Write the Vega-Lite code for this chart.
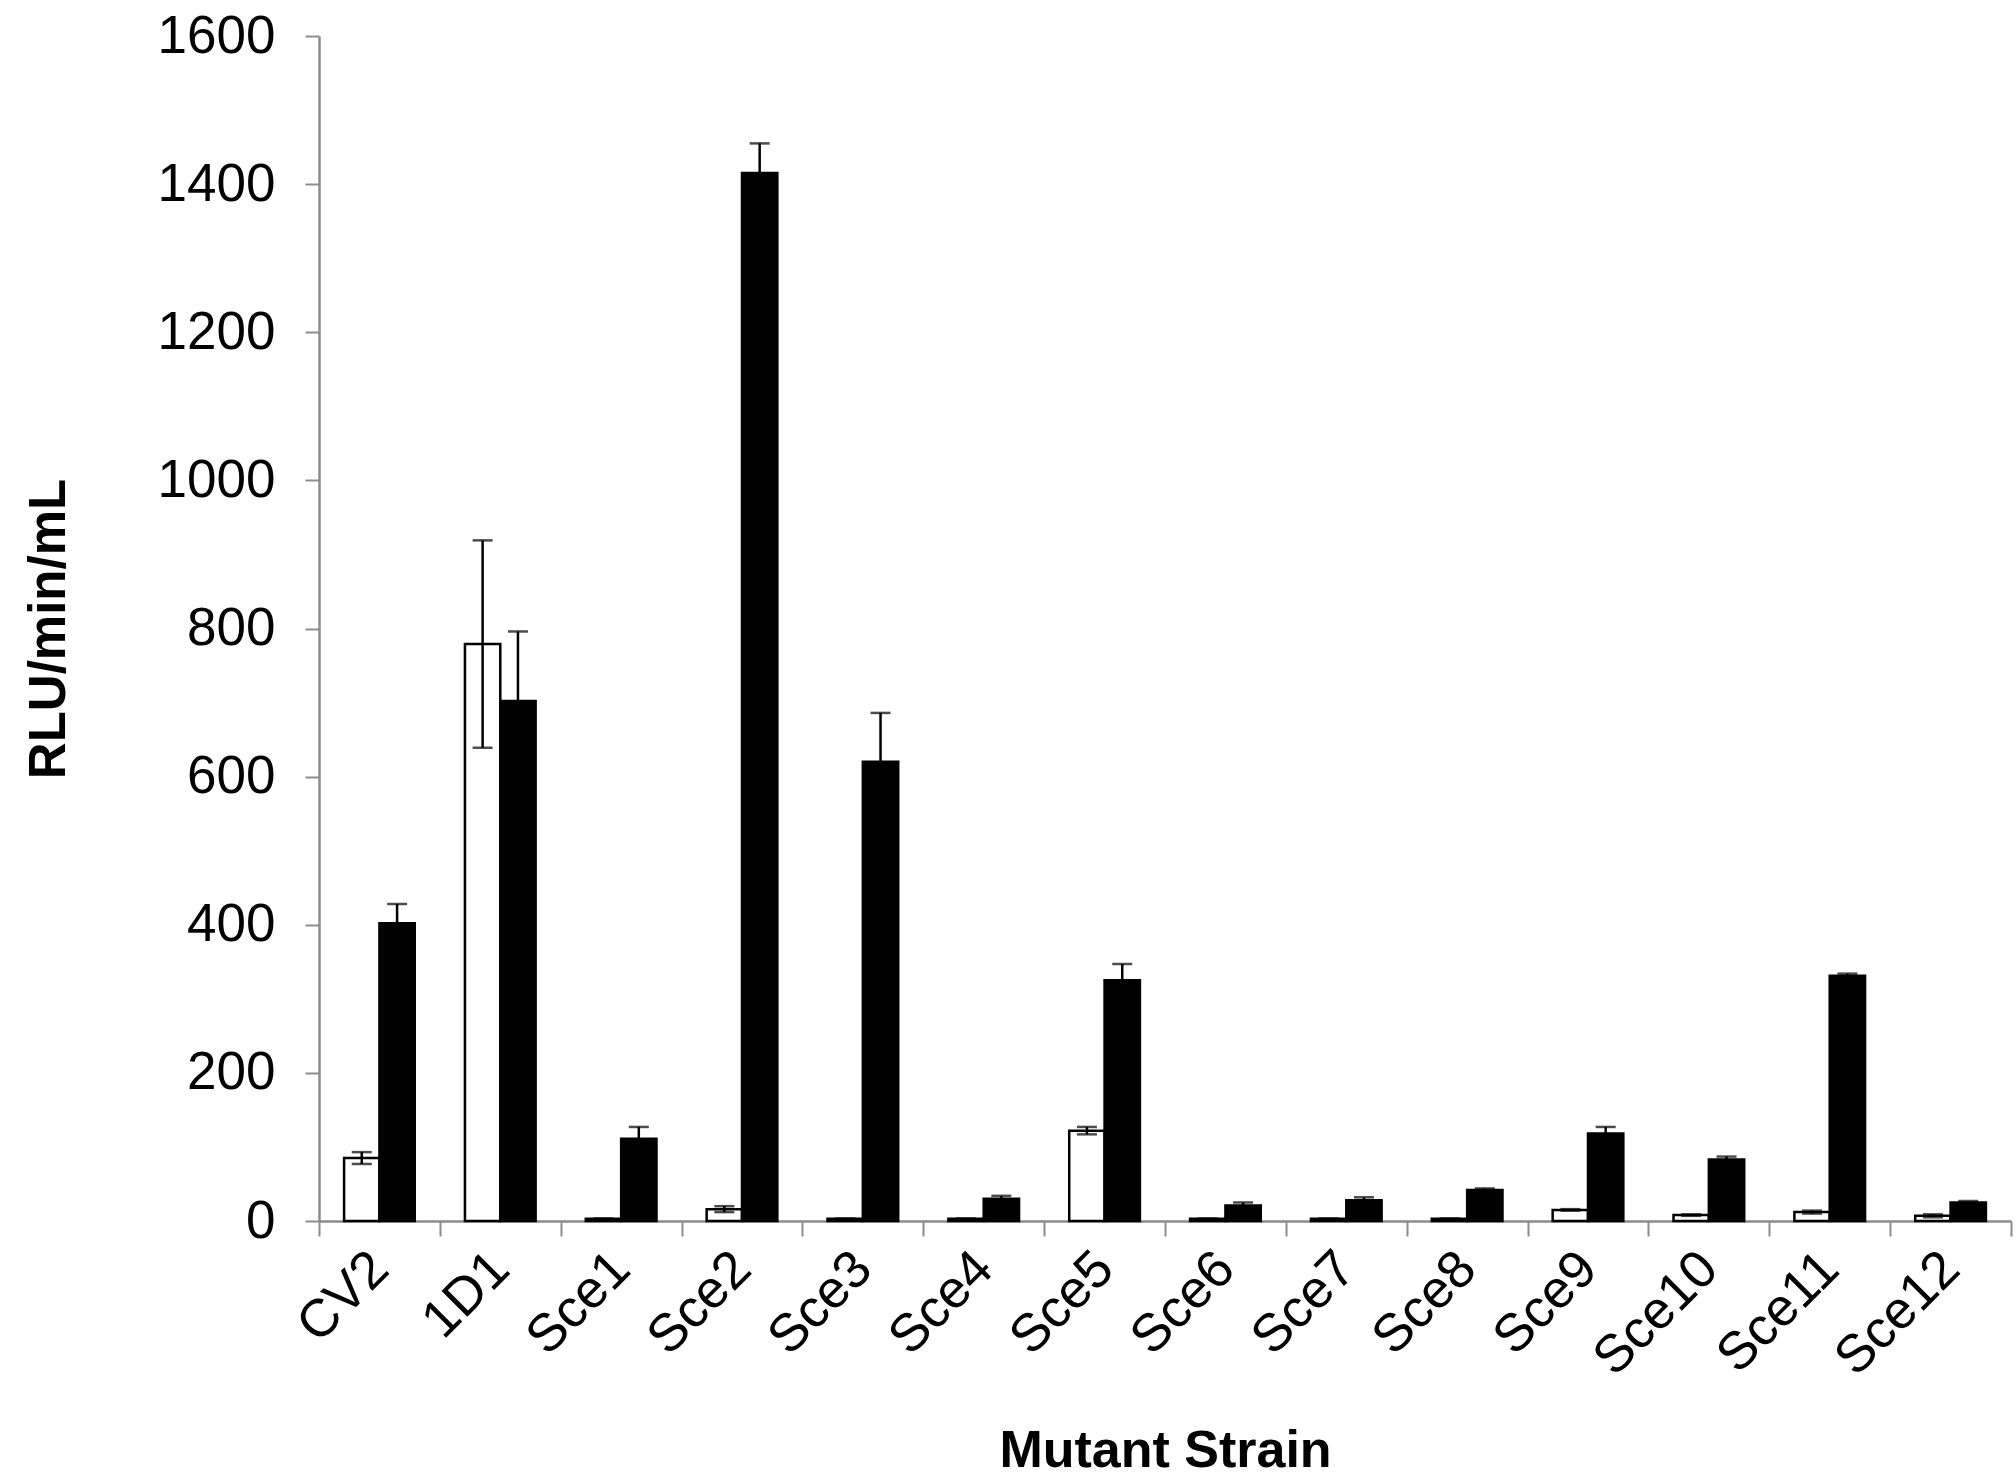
{
  "$schema": "https://vega.github.io/schema/vega-lite/v6.json",
  "width": 1692,
  "height": 1185,
  "autosize": "none",
  "padding": {"left": 319, "top": 36, "right": 4, "bottom": 256},
  "background": "white",
  "config": {
    "view": {"stroke": null},
    "font": "Liberation Sans"
  },
  "data": {
    "values": [
      {"strain": "CV2", "series": "Series 1", "value": 85, "lo": 77, "hi": 93},
      {"strain": "CV2", "series": "Series 2", "value": 402, "lo": 376, "hi": 428},
      {"strain": "1D1", "series": "Series 1", "value": 779, "lo": 639, "hi": 919},
      {"strain": "1D1", "series": "Series 2", "value": 702, "lo": 608, "hi": 796},
      {"strain": "Sce1", "series": "Series 1", "value": 3, "lo": 3, "hi": 3},
      {"strain": "Sce1", "series": "Series 2", "value": 111, "lo": 95, "hi": 127},
      {"strain": "Sce2", "series": "Series 1", "value": 16, "lo": 12, "hi": 20},
      {"strain": "Sce2", "series": "Series 2", "value": 1415, "lo": 1375, "hi": 1455},
      {"strain": "Sce3", "series": "Series 1", "value": 3, "lo": 3, "hi": 3},
      {"strain": "Sce3", "series": "Series 2", "value": 620, "lo": 554, "hi": 686},
      {"strain": "Sce4", "series": "Series 1", "value": 3, "lo": 3, "hi": 3},
      {"strain": "Sce4", "series": "Series 2", "value": 30, "lo": 26, "hi": 34},
      {"strain": "Sce5", "series": "Series 1", "value": 122, "lo": 117, "hi": 127},
      {"strain": "Sce5", "series": "Series 2", "value": 325, "lo": 303, "hi": 347},
      {"strain": "Sce6", "series": "Series 1", "value": 3, "lo": 3, "hi": 3},
      {"strain": "Sce6", "series": "Series 2", "value": 21, "lo": 17, "hi": 25},
      {"strain": "Sce7", "series": "Series 1", "value": 3, "lo": 3, "hi": 3},
      {"strain": "Sce7", "series": "Series 2", "value": 28, "lo": 24, "hi": 32},
      {"strain": "Sce8", "series": "Series 1", "value": 3, "lo": 3, "hi": 3},
      {"strain": "Sce8", "series": "Series 2", "value": 42, "lo": 40, "hi": 44},
      {"strain": "Sce9", "series": "Series 1", "value": 15, "lo": 14, "hi": 16},
      {"strain": "Sce9", "series": "Series 2", "value": 118, "lo": 109, "hi": 127},
      {"strain": "Sce10", "series": "Series 1", "value": 8, "lo": 7, "hi": 9},
      {"strain": "Sce10", "series": "Series 2", "value": 83, "lo": 79, "hi": 87},
      {"strain": "Sce11", "series": "Series 1", "value": 12, "lo": 10, "hi": 14},
      {"strain": "Sce11", "series": "Series 2", "value": 331, "lo": 328, "hi": 334},
      {"strain": "Sce12", "series": "Series 1", "value": 7, "lo": 5, "hi": 9},
      {"strain": "Sce12", "series": "Series 2", "value": 25, "lo": 23, "hi": 27}
    ]
  },
  "encoding": {
    "x": {
      "field": "strain",
      "type": "nominal",
      "sort": null,
      "scale": {"paddingInner": 0, "paddingOuter": 0},
      "axis": {
        "title": "Mutant Strain",
        "titleFont": "Liberation Sans",
        "titleFontSize": 52,
        "titleFontWeight": "bold",
        "titleColor": "black",
        "titlePadding": 40,
        "labelFont": "Liberation Sans",
        "labelFontSize": 53,
        "labelColor": "black",
        "labelAngle": -45,
        "labelAlign": "right",
        "labelBaseline": "middle",
        "labelPadding": 24,
        "tickBand": "extent",
        "tickSize": 15,
        "tickWidth": 2,
        "tickColor": "#8c8c8c",
        "domainColor": "#8c8c8c",
        "domainWidth": 2.5,
        "grid": false
      }
    },
    "xOffset": {
      "field": "series",
      "type": "nominal",
      "scale": {"domain": ["Series 1", "Series 2"], "paddingInner": 0, "paddingOuter": 0.71}
    }
  },
  "layer": [
    {
      "mark": {"type": "bar", "stroke": "black", "strokeWidth": 2.5},
      "encoding": {
        "y": {
          "field": "value",
          "type": "quantitative",
          "scale": {"domain": [0, 1600], "nice": false},
          "axis": {
            "title": "RLU/min/mL",
            "titleFont": "Liberation Sans",
            "titleFontSize": 51,
            "titleFontWeight": "bold",
            "titleColor": "black",
            "titlePadding": 82,
            "values": [0, 200, 400, 600, 800, 1000, 1200, 1400, 1600],
            "format": "d",
            "labelFont": "Liberation Sans",
            "labelFontSize": 53,
            "labelColor": "black",
            "labelPadding": 30,
            "tickSize": 14,
            "tickWidth": 2,
            "tickColor": "#8c8c8c",
            "domainColor": "#8c8c8c",
            "domainWidth": 2.5,
            "grid": false
          }
        },
        "fill": {
          "field": "series",
          "type": "nominal",
          "scale": {"domain": ["Series 1", "Series 2"], "range": ["white", "black"]},
          "legend": null
        }
      }
    },
    {
      "mark": {"type": "rule", "color": "black", "strokeWidth": 2.5},
      "encoding": {
        "y": {"field": "lo", "type": "quantitative"},
        "y2": {"field": "hi"}
      }
    },
    {
      "mark": {"type": "tick", "color": "black", "size": 20, "thickness": 2.5, "orient": "horizontal"},
      "encoding": {
        "y": {"field": "hi", "type": "quantitative"}
      }
    },
    {
      "mark": {"type": "tick", "color": "black", "size": 20, "thickness": 2.5, "orient": "horizontal"},
      "encoding": {
        "y": {"field": "lo", "type": "quantitative"}
      }
    }
  ]
}
